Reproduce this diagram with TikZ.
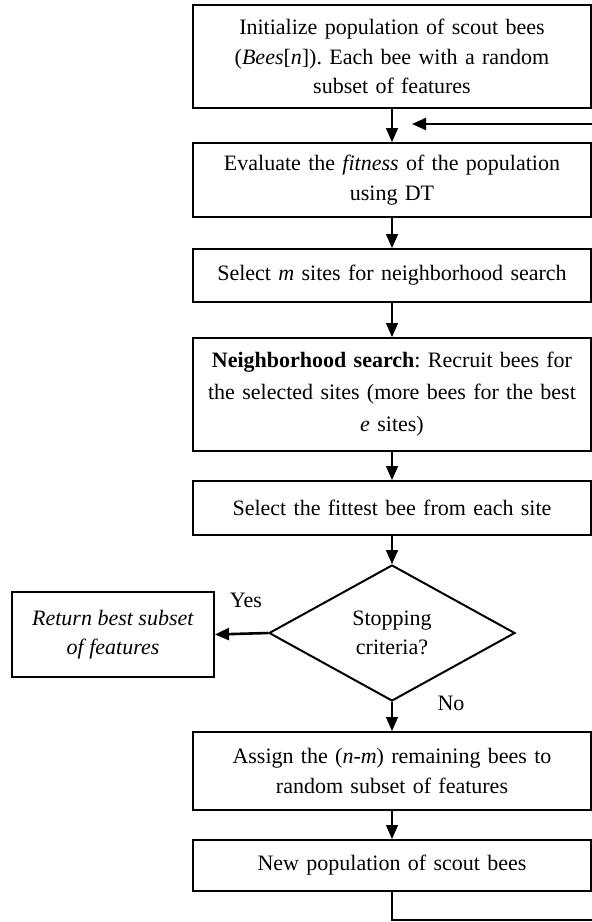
\documentclass[tikz,border=0pt]{standalone}
\usepackage{fontspec}
\setmainfont{Liberation Serif}
\usetikzlibrary{shapes.geometric,arrows.meta}
\frenchspacing
\begin{document}
\begin{tikzpicture}[x=1pt,y=-1pt,
  every node/.style={font=\fontsize{22}{29.5}\selectfont},
  stepbox/.style={draw,line width=2pt,minimum width=398pt,inner sep=0pt,align=center,text width=390pt},
  decide/.style={draw,diamond,line width=2pt,inner sep=0pt,minimum width=246pt,minimum height=136pt,align=center},
  flow/.style={line width=1.4pt,-{Triangle[length=14pt,width=12pt]}},
  lab/.style={inner sep=0pt}]
\fill[white] (0,0) rectangle (592,922);
\useasboundingbox (0,0) rectangle (592,922);
\node[stepbox,minimum height=103pt] (b1) at (392,56.5) {Initialize population of scout bees\\(\textit{Bees}[\textit{n}]). Each bee with a random\\subset of features};
\node[stepbox,minimum height=74pt] (b2) at (392,180) {Evaluate the \textit{fitness} of the population\\using DT};
\node[stepbox,minimum height=53pt] (b3) at (392,275.5) {Select \textit{m} sites for neighborhood search};
\node[stepbox,minimum height=113pt,font=\fontsize{22}{32}\selectfont] (b4) at (392,394.5) {\textbf{Neighborhood search}: Recruit bees for\\the selected sites (more bees for the best\\\textit{e} sites)};
\node[stepbox,minimum height=54pt] (b5) at (392,508) {Select the fittest bee from each site};
\node[decide] (d) at (392,633) {Stopping\\criteria?};
\node[draw,line width=2pt,minimum width=202pt,minimum height=85pt,inner sep=0pt,align=center] (ret) at (113,634.5) {\textit{Return best subset}\\\textit{of features}};
\node[stepbox,minimum height=78pt] (b6) at (392,771) {Assign the (\textit{n}-\textit{m}) remaining bees to\\random subset of features};
\node[stepbox,minimum height=51pt] (b7) at (392,865.5) {New population of scout bees};
\coordinate (fb1) at (392,920);
\coordinate (fb2) at (594,920);
\coordinate (fb3) at (594,124);
\coordinate (fb4) at (412,124);
\draw[flow] (b1) -- (b2);
\draw[flow] (b2) -- (b3);
\draw[flow] (b3) -- (b4);
\draw[flow] (b4) -- (b5);
\draw[flow] (b5) -- (d);
\draw[flow,line width=2.6pt] (d.west) -- (ret.east);
\draw[flow] (d) -- (b6);
\draw[flow] (b6) -- (b7);
\draw[line width=2pt,-{Triangle[length=14pt,width=12pt]}] (b7.south) -- (fb1) -- (fb2) -- (fb3) -- (fb4);
\node[lab] (yes) at (246,600) {Yes};
\node[lab] (no) at (451,703) {No};
\end{tikzpicture}
\end{document}
